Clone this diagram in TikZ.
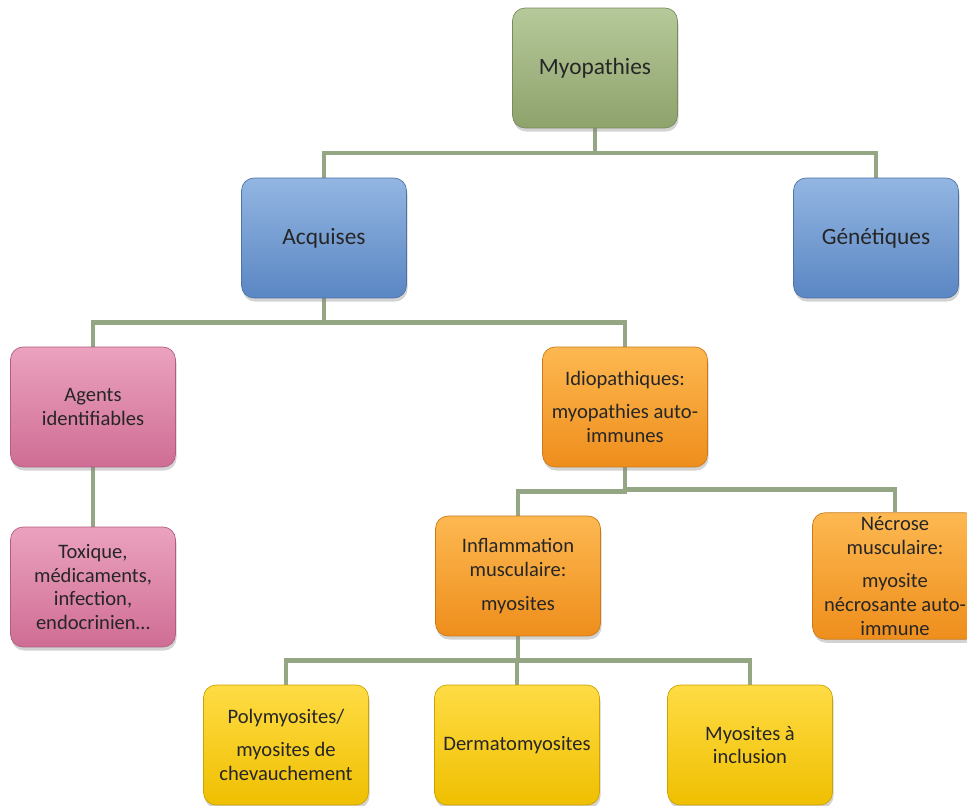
\documentclass[tikz,border=0pt]{standalone}
\usepackage{fontspec}
\setmainfont{Carlito}
\usepackage{xcolor}
\usetikzlibrary{calc,shadows,backgrounds}

\definecolor{linkgreen}{HTML}{95A684}
\definecolor{myotop}{HTML}{B6C99A}
\definecolor{myobot}{HTML}{8EA26C}
\definecolor{bluetop}{HTML}{93B6E2}
\definecolor{bluebot}{HTML}{5A86C3}
\definecolor{pinktop}{HTML}{EBA2BE}
\definecolor{pinkbot}{HTML}{CF6D94}
\definecolor{orangetop}{HTML}{FDB851}
\definecolor{orangebot}{HTML}{EE8E1C}
\definecolor{yellowtop}{HTML}{FFDC45}
\definecolor{yellowbot}{HTML}{EFBF00}

\begin{document}
\begin{tikzpicture}[x=0.02cm,y=-0.02cm,
  box/.style={rounded corners=0.25cm,minimum width=3.3cm,minimum height=2.4cm,
    inner sep=2pt,align=center,text=black!85,
    drop shadow={opacity=0.35,shadow xshift=0.6pt,shadow yshift=-2pt}},
  bigtext/.style={font=\fontsize{13.3}{16}\selectfont},
  smalltext/.style={font=\fontsize{11.7}{13.6}\selectfont},
  greenbox/.style={box,bigtext,top color=myotop,bottom color=myobot,draw=myobot!85!black},
  bluebox/.style={box,bigtext,top color=bluetop,bottom color=bluebot,draw=bluebot!85!black},
  pinkbox/.style={box,smalltext,top color=pinktop,bottom color=pinkbot,draw=pinkbot!85!black},
  orangebox/.style={box,smalltext,top color=orangetop,bottom color=orangebot,draw=orangebot!85!black},
  yellowbox/.style={box,smalltext,top color=yellowtop,bottom color=yellowbot,draw=yellowbot!85!black},
  link/.style={draw=linkgreen,line width=2.8pt},
  elbow/.style={to path={(\tikztostart) |- ($(\tikztostart)!.5!(\tikztotarget)$) -| (\tikztotarget)}}]
\useasboundingbox (0,0) rectangle (967,805);

% level 0 and 1
\node[greenbox] (myo) at (595,68) {Myopathies};
\node[bluebox] (acq) at (324,238) {Acquises};
\node[bluebox] (gen) at (876,238) {Génétiques};

% level 2 and 3
\node[pinkbox] (agents) at (93,407) {Agents\\identifiables};
\node[orangebox] (idio) at (625,407) {Idiopathiques:\\[5.5pt]myopathies auto-\\immunes};
\node[pinkbox] (tox) at (93,587) {Toxique,\\médicaments,\\infection,\\endocrinien…};
\node[orangebox] (infl) at (518,576) {Inflammation\\musculaire:\\[5.5pt]myosites};
\node[orangebox] (necr) at (895,576) {Nécrose\\musculaire:\\[5.5pt]myosite\\nécrosante auto-\\immune};

% level 4
\node[yellowbox] (poly) at (286,745) {Polymyosites/\\[5.5pt]myosites de\\chevauchement};
\node[yellowbox] (derm) at (517,745) {Dermatomyosites};
\node[yellowbox] (incl) at (750,745) {Myosites à\\inclusion};

\begin{scope}[on background layer]
\draw[link] (myo.south) to[elbow] (acq.north);
\draw[link] (myo.south) to[elbow] (gen.north);
\draw[link] (acq.south) to[elbow] (agents.north);
\draw[link] (acq.south) to[elbow] (idio.north);
\draw[link] (agents.south) -- (tox.north);
\draw[link] (idio.south) to[elbow] (infl.north);
\draw[link] (idio.south) to[elbow] (necr.north);
\draw[link] (infl.south) to[elbow] (poly.north);
\draw[link] (infl.south) to[elbow] (derm.north);
\draw[link] (infl.south) to[elbow] (incl.north);
\end{scope}
\end{tikzpicture}
\end{document}
